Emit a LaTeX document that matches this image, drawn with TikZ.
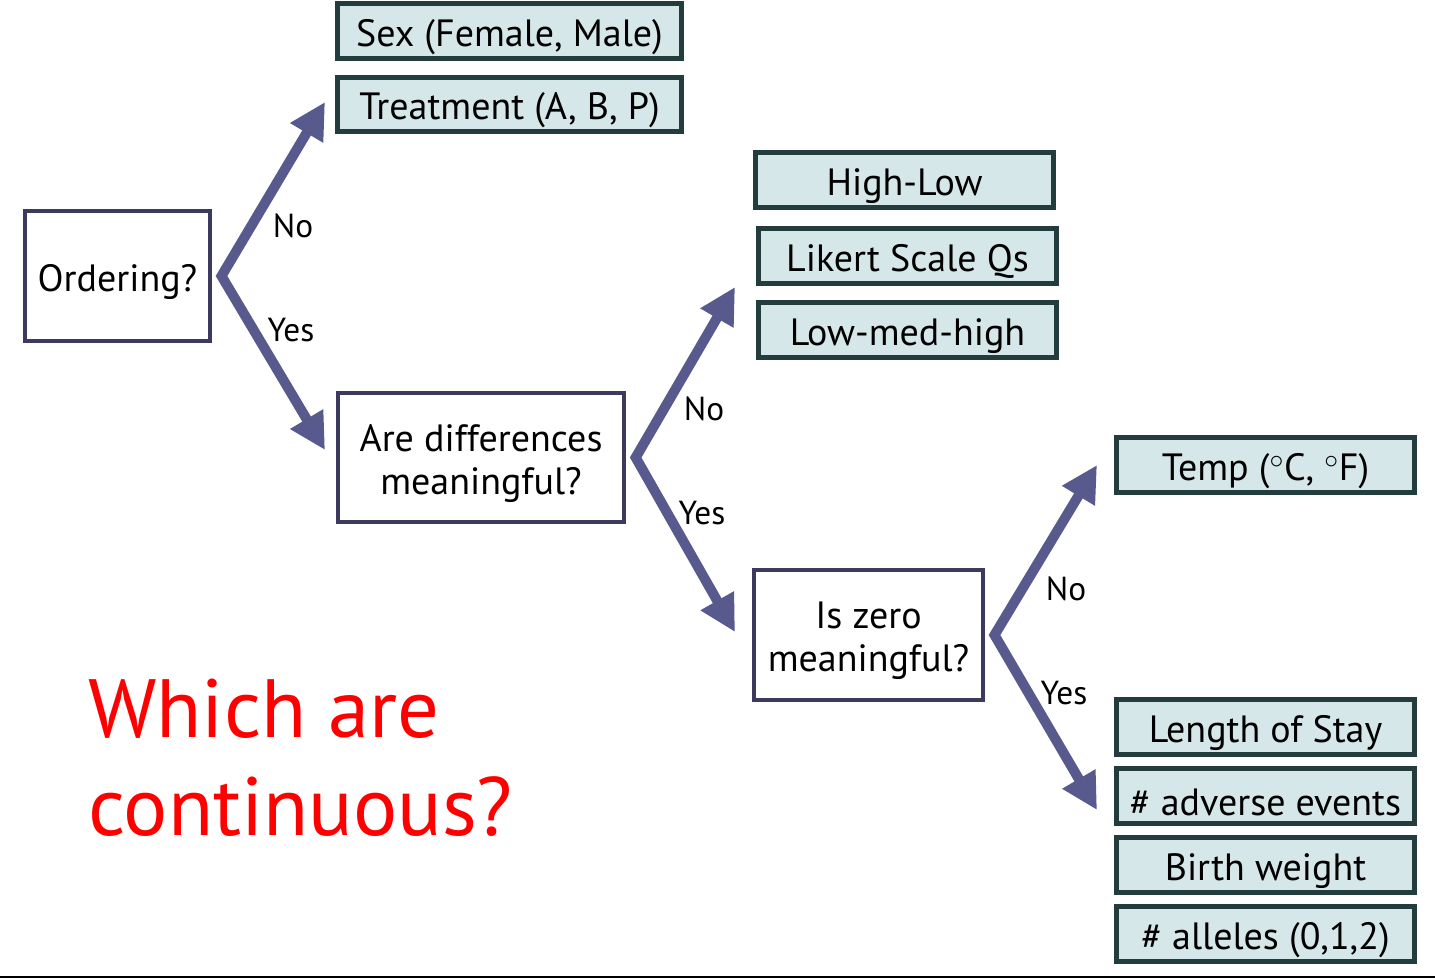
\documentclass[tikz,border=0pt]{standalone}
\usepackage{fontspec}
\setmainfont{PT Sans}
\usetikzlibrary{arrows.meta}
\definecolor{arrowc}{RGB}{88,90,142}
\definecolor{qline}{RGB}{60,58,94}
\definecolor{aline}{RGB}{35,61,62}
\definecolor{afill}{RGB}{214,231,233}
\newcommand{\lift}{\rule{0pt}{29pt}}
\begin{document}
\begin{tikzpicture}[x=0.75pt,y=-0.75pt,>={Triangle[length=27pt,width=27pt]},
    qbox/.style={draw=qline,line width=3pt,fill=white,inner sep=0pt,align=center,
      font=\fontsize{28.5}{32.5}\selectfont},
    abox/.style={draw=aline,line width=3.75pt,fill=afill,inner sep=0pt,
      minimum width=224pt,minimum height=41pt,font=\fontsize{28.5}{32}\selectfont},
    arr/.style={<->,arrowc,line width=7.5pt,line join=miter},
    lab/.style={font=\fontsize{25}{30}\selectfont}]
  \useasboundingbox (0,0) rectangle (1435,978);
  % questions
  \node[qbox,minimum width=139pt,minimum height=98pt] (ord) at (117.5,276) {\lift Ordering?};
  \node[qbox,minimum width=215pt,minimum height=97pt] (diff) at (481,457.5) {\lift Are differences\\meaningful?};
  \node[qbox,minimum width=172pt,minimum height=98pt] (zero) at (868.5,635) {\lift Is zero\\meaningful?};
  % answers
  \node[abox,minimum width=258pt] (sex) at (509.5,31) {\lift Sex (Female, Male)};
  \node[abox,minimum width=258pt] (treat) at (509.5,104.5) {\lift Treatment (A, B, P)};
  \node[abox] (hilo) at (904.5,180) {\lift High-Low};
  \node[abox] (likert) at (907.5,256) {\lift Likert Scale Qs};
  \node[abox] (lmh) at (907.5,330) {\lift Low-med-high};
  \node[abox] (temp) at (1265.5,465) {\lift Temp ($^\circ$C, $^\circ$F)};
  \node[abox] (stay) at (1265.5,727) {\lift Length of Stay};
  \node[abox] (adverse) at (1265.5,796) {\lift\# adverse events};
  \node[abox] (birth) at (1265.5,865) {\lift Birth weight};
  \node[abox] (allele) at (1265.5,934) {\lift\# alleles (0,1,2)};
  % arrows
  \coordinate (ordno) at (325,102);
  \coordinate (ordyes) at (325,450);
  \coordinate (diffno) at (735,287);
  \coordinate (diffyes) at (735,632);
  \coordinate (zerono) at (1097,465);
  \coordinate (zeroyes) at (1097,810);
  \draw[arr] (ordno) -- ([xshift=7pt]ord.east) -- (ordyes);
  \draw[arr] (diffno) -- ([xshift=7pt]diff.east) -- (diffyes);
  \draw[arr] (zerono) -- ([xshift=7pt]zero.east) -- (zeroyes);
  \node[lab] (ordnol) at (293,226) {No};
  \node[lab] (ordyesl) at (291,330) {Yes};
  \node[lab] (diffnol) at (704,409) {No};
  \node[lab] (diffyesl) at (702,513) {Yes};
  \node[lab] (zeronol) at (1066,589) {No};
  \node[lab] (zeroyesl) at (1064,693) {Yes};
  % question to reader
  \node[anchor=north west,inner sep=0pt,align=left,text=red,
    font=\fontsize{62}{73}\selectfont] (which) at (88,679) {Which are\\continuous?};
  \draw[line width=1.5pt] (0,977) -- (1435,977);
\end{tikzpicture}
\end{document}
